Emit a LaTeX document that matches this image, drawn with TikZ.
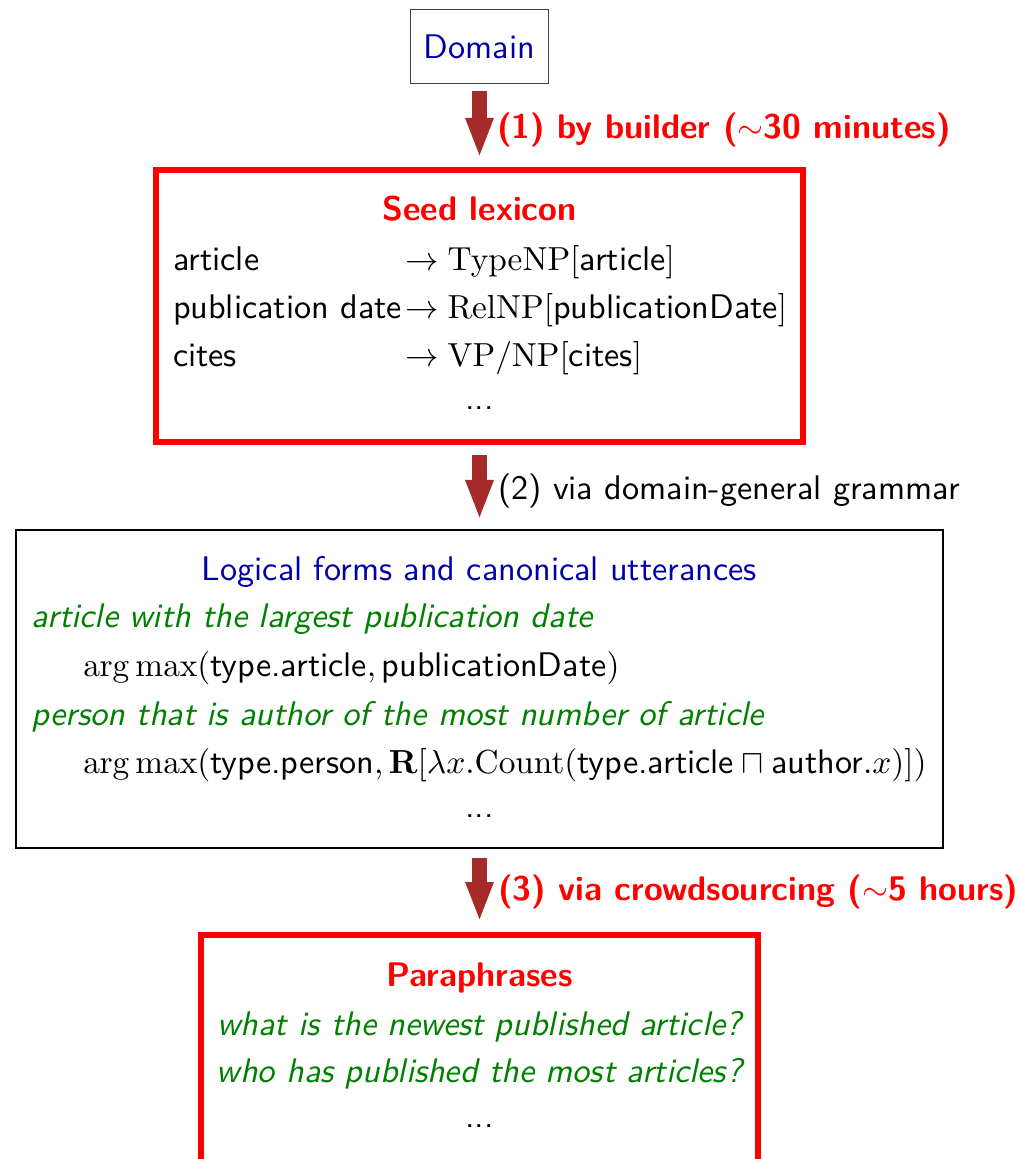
\documentclass[tikz,border=0pt]{standalone}
\usepackage{amsmath}
\usetikzlibrary{arrows.meta}
\renewcommand\familydefault{\sfdefault}
\definecolor{dblue}{RGB}{0,0,170}
\definecolor{dgreen}{RGB}{0,128,0}
\definecolor{arrbrown}{RGB}{165,42,42}
\begin{document}
\begin{tikzpicture}[x=0.3pt,y=-0.3pt,
  box/.style={draw, inner sep=0pt, outer sep=0pt},
  domainbox/.style={box, draw=black!75, line width=0.4pt, minimum width=41.4pt, minimum height=22.2pt, text=dblue},
  redbox/.style={box, draw=red, line width=1.8pt},
  blackbox/.style={box, draw=black, line width=0.6pt},
  txt/.style={inner sep=0pt, outer sep=0pt},
  flow/.style={draw=arrbrown, line width=4.3pt, -{Triangle[width=7.6pt,length=12pt]}},
  redlabel/.style={txt, anchor=base west, text=red, font=\bfseries},
  blacklabel/.style={txt, anchor=base west},
  title/.style={txt, anchor=base},
  utter/.style={txt, text=dgreen, font=\itshape},
]
\fontsize{10.25}{12.3}\selectfont
\useasboundingbox (0,0) rectangle (1017,1159);

% boxes
\node[domainbox] (domain) at (479.5,46.5) {Domain};
\node[redbox, minimum width=194.1pt, minimum height=81.6pt] (seed) at (479.5,306) {};
\node[blackbox, minimum width=278.1pt, minimum height=95.4pt] (logic) at (479.5,689) {};
\node[redbox, minimum width=167.1pt, minimum height=69.3pt] (para) at (479.5,1050.5) {};

% arrows
\draw[flow, shorten <=2.4pt, shorten >=3.6pt] (domain.south) -- (seed.north);
\draw[flow, shorten <=3.9pt, shorten >=3pt] (seed.south) -- (logic.north);
\draw[flow, shorten <=3pt, shorten >=3.9pt] (logic.south) -- (para.north);

% arrow labels
\node[redlabel] (lab1) at (497,139) {(1) by builder ($\sim$30 minutes)};
\node[blacklabel] (lab2) at (498,500) {(2) via domain-general grammar};
\node[redlabel] (lab3) at (498,900) {(3) via crowdsourcing ($\sim$5 hours)};

% seed lexicon
\node[title, text=red, font=\bfseries] (seedtitle) at (479.5,221) {Seed lexicon};
\node[txt, anchor=base west] (l1) at (173,271) {article};
\node[txt, anchor=base west] (r1) at (405,271) {$\to \mathrm{TypeNP}[\text{article}]$};
\node[txt, anchor=base west] (l2) at (173,319) {publication date};
\node[txt, anchor=base west] (r2) at (405,319) {$\to \mathrm{RelNP}[\text{publicationDate}]$};
\node[txt, anchor=base west] (l3) at (173,367) {cites};
\node[txt, anchor=base west] (r3) at (405,367) {$\to \mathrm{VP/NP}[\text{cites}]$};
\node[title] (seeddots) at (479.5,410) {...};

% logical forms
\node[title, text=dblue] (logictitle) at (479.5,581) {Logical forms and canonical utterances};
\node[utter, anchor=base west] (u1) at (32,628) {article with the largest publication date};
\node[txt, anchor=base west] (f1) at (83,676) {$\arg\max(\text{type.article}, \text{publicationDate})$};
\node[utter, anchor=base west] (u2) at (32,725) {person that is author of the most number of article};
\node[txt, anchor=base west] (f2) at (83,773) {$\arg\max(\text{type.person}, \mathbf{R}[\lambda x.\mathrm{Count}(\text{type.article} \sqcap \text{author}.x)])$};
\node[title] (logicdots) at (479.5,817) {...};

% paraphrases
\node[title, text=red, font=\bfseries] (paratitle) at (479.5,986) {Paraphrases};
\node[utter, anchor=base] (p1) at (479.5,1035) {what is the newest published article?};
\node[utter, anchor=base] (p2) at (479.5,1082) {who has published the most articles?};
\node[title] (paradots) at (479.5,1127) {...};
\end{tikzpicture}
\end{document}
